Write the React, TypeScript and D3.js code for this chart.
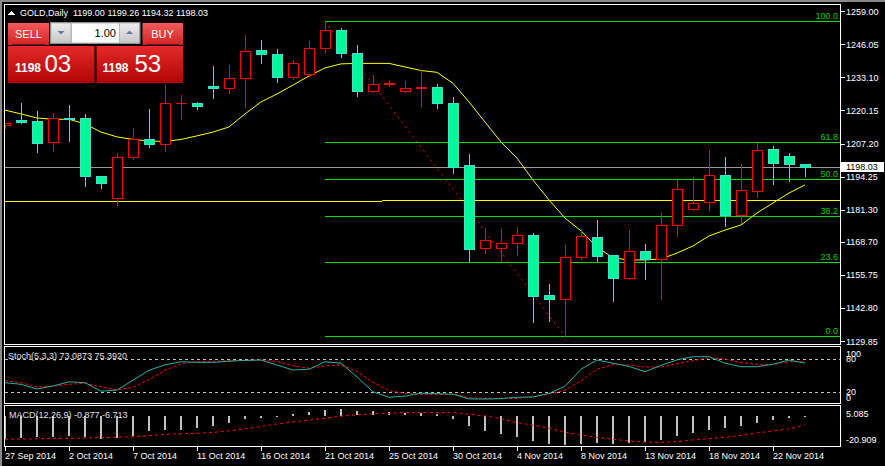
import React from "react";
import * as d3 from "d3";

// ---------- DATA ----------
const dates = ["27 Sep 2014","29 Sep 2014","30 Sep 2014","1 Oct 2014","2 Oct 2014","3 Oct 2014","4 Oct 2014","6 Oct 2014","7 Oct 2014","8 Oct 2014","9 Oct 2014","10 Oct 2014","11 Oct 2014","13 Oct 2014","14 Oct 2014","15 Oct 2014","16 Oct 2014","17 Oct 2014","18 Oct 2014","20 Oct 2014","21 Oct 2014","22 Oct 2014","23 Oct 2014","24 Oct 2014","25 Oct 2014","27 Oct 2014","28 Oct 2014","29 Oct 2014","30 Oct 2014","31 Oct 2014","1 Nov 2014","3 Nov 2014","4 Nov 2014","5 Nov 2014","6 Nov 2014","7 Nov 2014","8 Nov 2014","10 Nov 2014","11 Nov 2014","12 Nov 2014","13 Nov 2014","14 Nov 2014","15 Nov 2014","17 Nov 2014","18 Nov 2014","19 Nov 2014","20 Nov 2014","21 Nov 2014","22 Nov 2014","24 Nov 2014","25 Nov 2014"];

const opens = [1214.4,1216.4,1216.0,1207.7,1217.2,1217.1,1194.4,1185.8,1201.8,1208.9,1206.9,1222.9,1223.2,1229.7,1228.8,1232.8,1243.8,1242.3,1233.4,1234.3,1244.5,1251.7,1242.5,1227.9,1230.7,1227.9,1228.9,1229.2,1223.0,1198.8,1166.2,1166.2,1168.1,1171.3,1147.8,1146.2,1162.6,1170.5,1163.4,1154.4,1165.0,1161.9,1175.2,1181.7,1184.2,1194.8,1179.3,1188.5,1205.0,1202.3,1199.00];
const highs = [1215.3,1223.2,1220.1,1219.3,1222.3,1218.8,1194.6,1203.6,1213.4,1220.7,1230.1,1226.2,1223.6,1237.6,1237.8,1249.7,1247.8,1244.1,1239.9,1247.4,1255.1,1252.5,1245.8,1234.0,1232.1,1231.7,1236.0,1230.4,1225.5,1203.1,1174.2,1173.7,1174.5,1172.0,1152.2,1167.5,1173.7,1177.3,1163.6,1173.3,1167.9,1179.9,1193.2,1194.0,1204.7,1201.8,1199.2,1207.3,1206.2,1203.6,1199.26];
const lows = [1213.2,1215.1,1204.0,1204.3,1208.3,1190.7,1189.7,1183.0,1201.0,1205.7,1204.3,1216.8,1220.7,1224.9,1227.1,1221.6,1238.6,1231.4,1232.5,1233.8,1243.2,1241.2,1225.9,1227.5,1229.7,1227.5,1221.9,1221.0,1195.5,1160.7,1164.4,1161.3,1163.5,1137.4,1137.7,1131.7,1162.0,1161.3,1145.6,1154.0,1154.0,1146.4,1171.1,1181.2,1181.2,1174.9,1176.0,1186.4,1191.2,1192.6,1194.32];
const closes = [1215.1,1215.6,1207.5,1217.1,1216.7,1194.4,1191.6,1201.8,1208.9,1206.9,1223.0,1223.1,1222.0,1228.8,1232.8,1243.6,1242.2,1233.4,1238.6,1244.5,1251.7,1242.5,1227.9,1230.4,1230.9,1229.1,1229.2,1223.0,1198.1,1165.8,1169.4,1168.1,1171.3,1147.6,1146.2,1162.6,1171.0,1163.3,1154.4,1165.0,1161.9,1175.2,1189.3,1183.8,1194.8,1179.3,1188.9,1204.6,1199.5,1199.2,1198.03];

const maValues = [1220.3,1218.8,1217.2,1216.7,1216.7,1214.9,1211.7,1209.8,1208.8,1208.2,1208.0,1208.8,1210.2,1211.7,1213.7,1218.8,1223.5,1226.6,1230.1,1233.7,1236.8,1238.4,1238.6,1238.6,1238.6,1237.2,1235.8,1235.1,1230.8,1223.5,1215.6,1207.8,1201.5,1192.9,1185.1,1178.0,1173.0,1166.7,1162.4,1161.6,1161.6,1162.0,1164.3,1167.1,1171.0,1173.3,1175.3,1180.0,1183.9,1187.8,1191.0];

const stochMain = [37.5,34.5,26,31.5,39,37.5,22,24,42,60,70,75.5,74.5,74.5,76.5,78,78.7,69.6,60.5,62,75.6,73,48,21,11,13,18.5,17.5,16.4,8,7.8,8.5,11,11.5,18,31,62,78.7,73,67,57.5,69,79,84.7,84.7,73,66.5,66.5,71,78.7,73.09];
const stochSignal = [41,37.5,30,31,34.5,36.4,30,24.5,29,43,60,72,75.6,76.5,77.5,78,78.7,76,68.5,63.6,68,69.6,58,38,23,18,16.5,15.5,17,10,9,9,9,12,16.5,24,41,61.8,70.5,69.6,66,66,72,77.5,82.9,80.5,74,70.9,70.9,75.6,75.39];

const macdMain = [-16.5,-15.7,-15.3,-15.3,-14.8,-15.3,-16.5,-15.7,-14.6,-11.0,-10.0,-10.0,-8.5,-6.9,-5.2,-2.5,-1.3,-0.8,1.1,2.3,4.0,5.085,3.2,3.2,2.3,1.6,2.0,1.2,-2.3,-7.4,-11.0,-12.9,-15.3,-18.2,-20.4,-20.909,-20.4,-19.6,-20.4,-19.6,-18.9,-17.5,-14.6,-12.4,-10.3,-8.8,-7.4,-5.2,-3.0,-1.6,-0.877];
const macdSignal = [-17.2,-17.0,-16.8,-16.6,-16.5,-16.2,-16.0,-15.6,-15.3,-14.5,-13.6,-13.1,-12.8,-12.2,-11.0,-9.7,-7.9,-6.1,-4.5,-3.4,-1.9,-0.5,0.6,1.3,1.7,2.1,2.2,2.2,2.3,0.9,-0.2,-2.2,-5.2,-6.9,-9.2,-12.0,-14.1,-15.8,-17.2,-18.3,-19.1,-19.4,-18.8,-17.6,-16.6,-15.7,-14.4,-12.6,-11.1,-9.7,-6.713];

const priceTicks = [1259.0,1246.05,1233.1,1220.15,1207.2,1194.25,1181.3,1168.7,1155.75,1142.8,1129.85];
const priceDomain = [1129.85, 1259.0];
const fibLevels = [0, 23.6, 38.2, 50, 61.8, 100];
const fibHighPrice = 1255.1;
const fibLowPrice = 1131.7;
const fibHighBar = 20;
const fibLowBar = 35;
const bidPrice = 1198.03;
const trendLinePrices = [1184.7, 1185.1];
const stochLevels = [80, 20];
const stochAxisLabels = ["100", "80", "20", "0"];
const stochAxisValues = [100, 80, 20, 0];
const macdRange = [-20.909, 5.085];
const macdAxisLabels = ["5.085", "-20.909"];
const headerText = "GOLD,Daily  1199.00 1199.26 1194.32 1198.03";
const stochText = "Stoch(5,3,3) 73.0873 75.3920";
const macdText = "MACD(12,26,9) -0.877 -6.713";

// ---------- LAYOUT ----------
const W = 885, H = 466;
const LEFT = 4.5, RIGHT = 840.5;
const MAIN = { top: 4.5, bottom: 344.5 };
const STO = { top: 346.5, bottom: 403.5 };
const MAC = { top: 405.5, bottom: 446.5 };
const FONT = "'Liberation Sans', Arial, sans-serif";

const n = closes.length;
const x = d3.scaleLinear().domain([0, n - 1]).range([5, 805]);
const y = d3.scaleLinear().domain(priceDomain).range([341, 11.3]);
const ys = d3.scaleLinear().domain([0, 100]).range([403.3, 348.3]);
const ym = d3.scaleLinear().domain(macdRange).range([444.5, 408.5]);

const px = (v: number) => Math.round(v) + 0.5;

const BULL = "#FF0000";
const BEAR_FILL = "#00FA9A";
const BEAR_LINE = "#3FE0D0";

export default function App() {
  const idx = d3.range(n);
  const maLine = d3.line<number>().x((i) => x(i)).y((i) => y(maValues[i]));
  const kLine = d3.line<number>().x((i) => x(i)).y((i) => ys(stochMain[i]));
  const dLine = d3.line<number>().x((i) => x(i)).y((i) => ys(stochSignal[i]));
  const sigLine = d3.line<number>().x((i) => x(i)).y((i) => ym(macdSignal[i]));

  const candles = idx.map((i) => {
    const o = opens[i], c = closes[i], h = highs[i], l = lows[i];
    const xc = Math.round(x(i));
    const bull = c >= o;
    const yT = Math.round(y(Math.max(o, c)));
    const yB = Math.round(y(Math.min(o, c)));
    const yH = Math.round(y(h));
    const yL = Math.round(y(l));
    const col = bull ? BULL : BEAR_LINE;
    const flat = yB - yT < 1;
    return (
      <g key={i}>
        <line x1={xc + 0.5} x2={xc + 0.5} y1={yH} y2={yL + 1} stroke={col} strokeWidth={1} />
        {flat ? (
          <line x1={xc - 5} x2={xc + 6} y1={yT + 0.5} y2={yT + 0.5} stroke={col} strokeWidth={1} />
        ) : (
          <rect x={xc - 4.5} y={yT + 0.5} width={10} height={yB - yT} fill={bull ? "#000" : BEAR_FILL} stroke={col} strokeWidth={1} />
        )}
      </g>
    );
  });

  const fibRange = fibHighPrice - fibLowPrice;

  return (
    <svg width={W} height={H} style={{ position: "absolute", left: 0, top: 0, background: "#000" }} fontFamily={FONT} shapeRendering="crispEdges">
      <defs>
        <clipPath id="clipMain"><rect x={5} y={5} width={835} height={339} /></clipPath>
        <clipPath id="clipSto"><rect x={5} y={347} width={835} height={56} /></clipPath>
        <clipPath id="clipMac"><rect x={5} y={406} width={835} height={40} /></clipPath>
        <linearGradient id="btnGrad" x1="0" y1="0" x2="0" y2="1">
          <stop offset="0" stopColor="#F45A5A" />
          <stop offset="1" stopColor="#D42222" />
        </linearGradient>
        <linearGradient id="boxGrad" x1="0" y1="0" x2="0" y2="1">
          <stop offset="0" stopColor="#E42A2A" />
          <stop offset="1" stopColor="#B20404" />
        </linearGradient>
        <linearGradient id="spinGrad" x1="0" y1="0" x2="0" y2="1">
          <stop offset="0" stopColor="#ECECEC" />
          <stop offset="1" stopColor="#C8C8C8" />
        </linearGradient>
      </defs>

      <rect x={0} y={0} width={W} height={H} fill="#000" />
      {/* outer gray frame */}
      <rect x={0} y={0} width={W} height={2} fill="#8A8A8A" />
      <rect x={0} y={0} width={2} height={H} fill="#8A8A8A" />

      {/* ---------- MAIN PANEL ---------- */}
      <g clipPath="url(#clipMain)">
        {/* bid line */}
        <line x1={LEFT} x2={RIGHT} y1={px(y(bidPrice))} y2={px(y(bidPrice))} stroke="#9A9A9A" />
        {/* yellow trend line */}
        <line x1={LEFT} x2={RIGHT} y1={y(trendLinePrices[0]) + 0.5} y2={y(trendLinePrices[1]) + 0.5} stroke="#FFFF00" />
        {/* fibonacci */}
        {fibLevels.map((lv) => {
          const yy = px(y(fibLowPrice + (fibRange * lv) / 100));
          return (
            <g key={lv}>
              <line x1={Math.round(x(fibHighBar))} x2={RIGHT} y1={yy} y2={yy} stroke="#00E000" />
              <text x={838} y={yy - 3} textAnchor="end" fontSize={9} fill="#00D000" shapeRendering="auto">
                {lv.toFixed(1)}
              </text>
            </g>
          );
        })}
        <line x1={x(fibHighBar)} y1={y(fibHighPrice)} x2={x(fibLowBar)} y2={y(fibLowPrice)} stroke="#FF0000" strokeDasharray="2,4" shapeRendering="auto" />
        {/* MA */}
        <path d={maLine(idx) || ""} fill="none" stroke="#FFFF00" strokeWidth={1} shapeRendering="auto" />
        {candles}
      </g>

      {/* ---------- STOCH PANEL ---------- */}
      <g clipPath="url(#clipSto)">
        {stochLevels.map((lv) => (
          <line key={lv} x1={LEFT} x2={RIGHT} y1={px(ys(lv))} y2={px(ys(lv))} stroke="#C0C0C0" strokeDasharray="3,3" />
        ))}
        <path d={dLine(idx) || ""} fill="none" stroke="#FF0000" strokeDasharray="3,2" shapeRendering="auto" />
        <path d={kLine(idx) || ""} fill="none" stroke="#20B2AA" shapeRendering="auto" />
      </g>
      <text x={8} y={358.5} fontSize={9} fill="#E0E0E0">{stochText}</text>

      {/* ---------- MACD PANEL ---------- */}
      <g clipPath="url(#clipMac)">
        {idx.map((i) => {
          const y0 = ym(0), y1 = ym(macdMain[i]);
          const top = Math.round(Math.min(y0, y1));
          const hgt = Math.max(1, Math.round(Math.abs(y1 - y0)));
          return <rect key={i} x={Math.round(x(i)) - 1} y={top} width={2} height={hgt} fill="#C0C0C0" />;
        })}
        <path d={sigLine(idx) || ""} fill="none" stroke="#FF0000" strokeDasharray="3,3" shapeRendering="auto" />
      </g>
      <text x={9} y={418} fontSize={9} fill="#E0E0E0">{macdText}</text>

      {/* ---------- FRAMES ---------- */}
      {[MAIN, STO, MAC].map((p, k) => (
        <rect key={k} x={LEFT} y={p.top} width={RIGHT - LEFT} height={p.bottom - p.top} fill="none" stroke="#FFFFFF" />
      ))}

      {/* ---------- PRICE AXIS ---------- */}
      {priceTicks.map((t) => (
        <g key={t}>
          <line x1={RIGHT} x2={RIGHT + 4} y1={px(y(t))} y2={px(y(t))} stroke="#FFFFFF" />
          <text x={846} y={y(t) + 3.5} fontSize={9} fill="#FFFFFF">{t.toFixed(2)}</text>
        </g>
      ))}
      <rect x={841} y={161.5} width={43} height={10.5} fill="#FFFFFF" />
      <text x={846} y={y(bidPrice) + 3.5} fontSize={9} fill="#000000">{bidPrice.toFixed(2)}</text>

      {/* stoch axis */}
      {stochAxisValues.map((v, k) => {
        const yy = v === 100 ? 353 : v === 80 ? 358.5 : v === 20 ? 391.5 : 397;
        return (
          <text key={v} x={846} y={yy + 3.5} fontSize={9} fill="#FFFFFF">{stochAxisLabels[k]}</text>
        );
      })}
      {/* macd axis */}
      <text x={846} y={ym(macdRange[1]) + 8} fontSize={9} fill="#FFFFFF">{macdAxisLabels[0]}</text>
      <text x={846} y={ym(macdRange[0]) - 1.5} fontSize={9} fill="#FFFFFF">{macdAxisLabels[1]}</text>

      {/* ---------- DATE AXIS ---------- */}
      {idx.filter((i) => i % 4 === 0).map((i) => {
        const xx = px(x(i)) - 0.5 + 0.5;
        return (
          <g key={i}>
            <line x1={Math.round(x(i)) + 0.5} x2={Math.round(x(i)) + 0.5} y1={MAC.bottom} y2={MAC.bottom + 4} stroke="#FFFFFF" />
            <text x={Math.round(x(i))} y={459} fontSize={9} fill="#FFFFFF">{dates[i]}</text>
          </g>
        );
      })}

      {/* ---------- HEADER ---------- */}
      <polygon points="8,15 11.5,11 15,15" fill="#FFFFFF" />
      <text x={20} y={16} fontSize={9} fill="#FFFFFF" xmlSpace="preserve">{headerText}</text>

      {/* ---------- ONE-CLICK PANEL ---------- */}
      <g shapeRendering="auto">
        <rect x={8} y={23} width={41} height={22} fill="url(#btnGrad)" />
        <line x1={12} x2={45} y1={44.5} y2={44.5} stroke="#8E0000" />
        <text x={28.5} y={38} fontSize={11} fill="#FFFFFF" textAnchor="middle">SELL</text>

        <rect x={50.5} y={22.5} width={89.5} height={21} fill="#B8B8B8" stroke="#909090" />
        <rect x={51.5} y={23.5} width={19} height={19} fill="url(#spinGrad)" />
        <polygon points="57.5,31 64.5,31 61,34.5" fill="#6A78A8" />
        <rect x={72} y={23.5} width={47} height={19} fill="#FFFFFF" />
        <text x={116} y={37} fontSize={11} fill="#000" textAnchor="end">1.00</text>
        <rect x={120} y={23.5} width={19} height={19} fill="url(#spinGrad)" />
        <polygon points="126,34 133,34 129.5,30.5" fill="#6A78A8" />

        <rect x={142.5} y={23} width={40.5} height={22} fill="url(#btnGrad)" />
        <line x1={146} x2={179} y1={44.5} y2={44.5} stroke="#8E0000" />
        <text x={162.5} y={38} fontSize={11} fill="#FFFFFF" textAnchor="middle">BUY</text>

        <rect x={8} y={46} width={86.5} height={37} fill="url(#boxGrad)" />
        <text x={15} y={71.5} fontSize={12} fontWeight="bold" fill="#FFFFFF">1198</text>
        <text x={44.5} y={71.5} fontSize={24} fill="#FFFFFF">03</text>

        <rect x={96.5} y={46} width={86.5} height={37} fill="url(#boxGrad)" />
        <text x={102.5} y={71.5} fontSize={12} fontWeight="bold" fill="#FFFFFF">1198</text>
        <text x={134.5} y={71.5} fontSize={24} fill="#FFFFFF">53</text>
      </g>
    </svg>
  );
}
